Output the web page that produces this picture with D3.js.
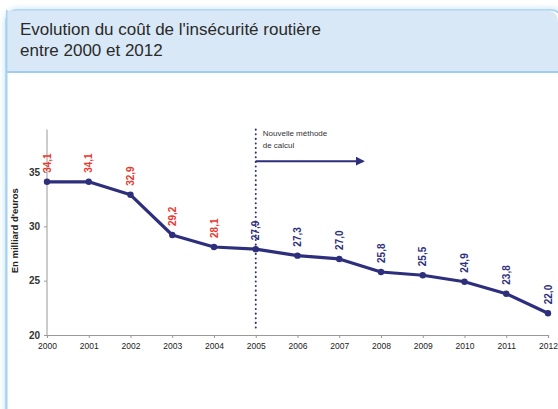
<!DOCTYPE html>
<html>
<head>
<meta charset="utf-8">
<script src="https://cdn.jsdelivr.net/npm/d3@7"></script>
<style>
  body { margin: 0; background: #fff; }
  svg { display: block; font-family: "Liberation Sans", Arial, sans-serif; }
</style>
</head>
<body>
<div id="svg_container"></div>
<script>
/* -----------------------
data
------------------------- */

var years = [2000, 2001, 2002, 2003, 2004, 2005, 2006, 2007, 2008, 2009, 2010, 2011, 2012];
var cost = [34.1, 34.1, 32.9, 29.2, 28.1, 27.9, 27.3, 27.0, 25.8, 25.5, 24.9, 23.8, 22.0];
var yTicks = [20, 25, 30, 35];
var newMethodYear = 2005;
var titleLines = ["Evolution du coût de l'insécurité routière", "entre 2000 et 2012"];

/* -----------------------
main variables
------------------------- */

var width = 558, height = 409;
var navy = '#2e2f7c';
var red = '#e8382f';

var svg = d3.select("#svg_container")
	.append("svg")
	.attr("width", width)
	.attr("height", height);

/* --- panel --- */
var defs = svg.append('defs');
var glow = defs.append('filter').attr('id', 'glow')
	.attr('x', '-5%').attr('y', '-5%').attr('width', '110%').attr('height', '110%');
glow.append('feGaussianBlur').attr('stdDeviation', 3);

svg.append('rect')
	.attr('x', 5).attr('y', 9).attr('width', 560).attr('height', 420)
	.attr('rx', 12)
	.attr('fill', '#bfe0f5')
	.attr('filter', 'url(#glow)');

svg.append('rect')
	.attr('x', 6).attr('y', 10).attr('width', 556).attr('height', 420)
	.attr('rx', 11)
	.attr('fill', '#fff')
	.attr('stroke', '#a6d2ef')
	.attr('stroke-width', 1.5);

// header band
svg.append('path')
	.attr('d', 'M6.75,72 L6.75,10.75 L546,10.75 Q558,10.75 558,22 L558,72 Z')
	.attr('fill', '#d9e8f6');
svg.append('line')
	.attr('x1', 6).attr('x2', 558)
	.attr('y1', 72).attr('y2', 72)
	.attr('stroke', '#a0cdee')
	.attr('stroke-width', 2);
svg.append('line')
	.attr('x1', 6.75).attr('x2', 6.75)
	.attr('y1', 10).attr('y2', 409)
	.attr('stroke', '#a6d2ef')
	.attr('stroke-width', 1.5);

svg.selectAll('.title')
	.data(titleLines)
	.enter()
	.append('text')
	.attr('class', 'title')
	.attr('x', 20)
	.attr('y', function(d, i) { return 35 + i * 21; })
	.attr('font-size', 17)
	.attr('fill', '#2a2a2a')
	.text(function(d) { return d; });

/* -----------------------
scales
------------------------- */

var x = d3.scaleLinear()
	.domain([2000, 2012])
	.range([47, 548]);

var y = d3.scaleLinear()
	.domain([20, 35])
	.range([335, 172]);

var plot = svg.append('g');

/* --- axes --- */
var xAxis = plot.append('g')
	.attr('transform', 'translate(0,' + y(20) + ')')
	.call(d3.axisBottom(x).tickValues(years).tickFormat(d3.format('d')).tickSize(3).tickPadding(5));

xAxis.select('.domain').attr('stroke', '#999').attr('stroke-width', 1.2);
xAxis.selectAll('.tick line').attr('stroke', '#999');
xAxis.selectAll('.tick text')
	.attr('font-size', 8.5)
	.attr('fill', '#222')
	.attr('font-family', '"Liberation Sans", Arial, sans-serif');

var yAxis = plot.append('g')
	.attr('transform', 'translate(' + x(2000) + ',0)')
	.call(d3.axisLeft(y).tickValues(yTicks).tickSize(3).tickPadding(4));

yAxis.select('.domain').remove();
yAxis.append('line')
	.attr('y1', y(20)).attr('y2', y(38.9))
	.attr('stroke', '#aaa').attr('stroke-width', 1.2);
yAxis.selectAll('.tick line').attr('stroke', '#999');
yAxis.selectAll('.tick text')
	.attr('font-size', 10)
	.attr('font-weight', 'bold')
	.attr('fill', '#333')
	.attr('font-family', '"Liberation Sans", Arial, sans-serif');

plot.append('text')
	.attr('transform', 'translate(18,' + y(29.6) + ') rotate(-90)')
	.attr('text-anchor', 'middle')
	.attr('font-size', 9.5)
	.attr('font-weight', 'bold')
	.attr('fill', '#222')
	.text("En milliard d'euros");

/* --- new method marker --- */
plot.append('line')
	.attr('x1', x(newMethodYear)).attr('x2', x(newMethodYear))
	.attr('y1', y(38.9)).attr('y2', y(20.5))
	.attr('stroke', navy)
	.attr('stroke-width', 2)
	.attr('stroke-linecap', 'round')
	.attr('stroke-dasharray', '0.1,4.5');

defs.append('marker')
	.attr('id', 'arrow')
	.attr('viewBox', '0 0 10 10')
	.attr('refX', 8).attr('refY', 5)
	.attr('markerWidth', 4.5).attr('markerHeight', 4.5)
	.attr('orient', 'auto')
	.append('path')
	.attr('d', 'M0,0 L10,5 L0,10 Z')
	.attr('fill', navy);

plot.append('line')
	.attr('x1', x(newMethodYear)).attr('x2', x(newMethodYear + 2.57))
	.attr('y1', y(36.0)).attr('y2', y(36.0))
	.attr('stroke', navy)
	.attr('stroke-width', 2)
	.attr('marker-end', 'url(#arrow)');

plot.selectAll('.note')
	.data(['Nouvelle méthode', 'de calcul'])
	.enter()
	.append('text')
	.attr('class', 'note')
	.attr('x', x(newMethodYear) + 7)
	.attr('y', function(d, i) { return y(38.3) + i * 12; })
	.attr('font-size', 8)
	.attr('fill', '#333')
	.text(function(d) { return d; });

/* --- line --- */
var data = years.map(function(d, i) { return {year: d, value: cost[i]}; });

plot.append('path')
	.datum(data)
	.attr('fill', 'none')
	.attr('stroke', navy)
	.attr('stroke-width', 3.2)
	.attr('stroke-linejoin', 'round')
	.attr('d', d3.line()
		.x(function(d) { return x(d.year); })
		.y(function(d) { return y(d.value); }));

plot.selectAll('.dot')
	.data(data)
	.enter()
	.append('circle')
	.attr('class', 'dot')
	.attr('cx', function(d) { return x(d.year); })
	.attr('cy', function(d) { return y(d.value); })
	.attr('r', 3.2)
	.attr('fill', navy);

plot.selectAll('.val')
	.data(data)
	.enter()
	.append('text')
	.attr('class', 'val')
	.attr('transform', function(d) {
		return 'translate(' + (x(d.year) + 3.5) + ',' + (y(d.value) - 9) + ') rotate(-90)';
	})
	.attr('font-size', 10)
	.attr('font-weight', 'bold')
	.attr('fill', function(d) { return d.year < newMethodYear ? red : navy; })
	.text(function(d) { return d3.format('.1f')(d.value).replace('.', ','); });
</script>
</body>
</html>
